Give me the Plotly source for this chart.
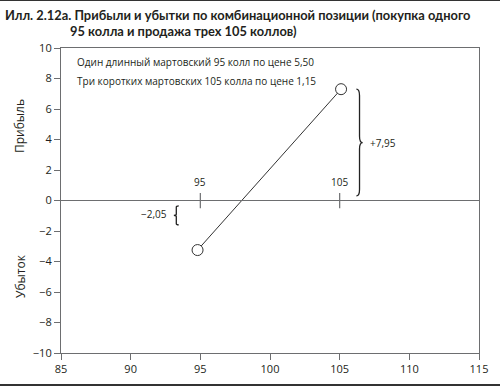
import plotly.graph_objects as go

# Data
strikes_x = [94.8, 105.1]
pnl_y = [-3.25, 7.3]
strike_marks = [95, 105]
strike_labels = ["95", "105"]
legend_lines = ["Один длинный мартовский 95 колл по цене 5,50",
                "Три коротких мартовских 105 колла по цене 1,15"]
brace_labels = ["−2,05", "+7,95"]
y_ticks = [-10, -8, -6, -4, -2, 0, 2, 4, 6, 8, 10]
x_ticks = [85, 90, 95, 100, 105, 110, 115]
title_lines = ["Илл. 2.12а. Прибыли и убытки по комбинационной позиции (покупка одного",
               "95 колла и продажа трех 105 коллов)"]
side_labels = ["Прибыль", "Убыток"]

FONT = "Open Sans"
TFONT = "Lato"
TXT = "#231f20"
AX = "#6d6e70"

W, H = 500, 386
ML, MR, MT, MB = 61, 21, 47, 34
PW, PH = W - ML - MR, H - MT - MB


def px2paper(px, py):
    return (px - ML) / PW, 1 - (py - MT) / PH


fig = go.Figure()
fig.add_trace(go.Scatter(
    x=strikes_x, y=pnl_y, mode="lines+markers",
    line=dict(color="#333333", width=1),
    marker=dict(size=11, color="white", line=dict(color="#333333", width=1)),
    showlegend=False, hoverinfo="skip"))

shapes = []
annotations = []

# zero line
shapes.append(dict(type="line", xref="x", yref="y", x0=85, x1=115, y0=0, y1=0,
                   line=dict(color=AX, width=1.2)))
# strike ticks on zero line
for s, lab in zip(strike_marks, strike_labels):
    shapes.append(dict(type="line", xref="x", yref="y", x0=s, x1=s, y0=-0.5, y1=0.5,
                       line=dict(color=AX, width=1.2)))
    annotations.append(dict(x=s, y=0.6, xref="x", yref="y", text=lab, showarrow=False,
                            font=dict(size=10, color=TXT, family=FONT), yanchor="bottom"))


def brace(x0, ytop, ybot, w):
    ym = (ytop + ybot) / 2
    xm = x0 + w / 2
    r = (ytop - ybot) * 0.06
    return (f"M {x0},{ytop} Q {xm},{ytop} {xm},{ytop - r} L {xm},{ym + r} "
            f"Q {xm},{ym} {x0 + w},{ym} Q {xm},{ym} {xm},{ym - r} "
            f"L {xm},{ybot + r} Q {xm},{ybot} {x0},{ybot}")


shapes.append(dict(type="path", xref="x", yref="y",
                   path=brace(106.2, 7.3, 0.3, 0.45),
                   line=dict(color="#222222", width=1.3)))
shapes.append(dict(type="path", xref="x", yref="y",
                   path=brace(93.45, -0.35, -1.6, -0.35),
                   line=dict(color="#222222", width=1.3)))
annotations.append(dict(x=107.0, y=3.8, xref="x", yref="y", text=brace_labels[1],
                        showarrow=False, xanchor="left",
                        font=dict(size=10, color=TXT, family=FONT)))
annotations.append(dict(x=92.75, y=-0.9, xref="x", yref="y", text=brace_labels[0],
                        showarrow=False, xanchor="right",
                        font=dict(size=10, color=TXT, family=FONT)))

# legend text
for i, t in enumerate(legend_lines):
    annotations.append(dict(x=86.0, y=9.1 - i * 1.25, xref="x", yref="y", text=t,
                            showarrow=False, xanchor="left",
                            font=dict(size=10, color=TXT, family=FONT)))

# side labels
for lab, py in zip(side_labels, [125, 275]):
    x, y = px2paper(20, py)
    annotations.append(dict(x=x, y=y, xref="paper", yref="paper", text=lab,
                            showarrow=False, textangle=-90, xanchor="center", yanchor="middle",
                            font=dict(size=12, color=TXT, family=FONT)))

# title
for t, (px, py) in zip(title_lines, [(3, 4), (68, 20)]):
    x, y = px2paper(px, py)
    annotations.append(dict(x=x, y=y, xref="paper", yref="paper", xanchor="left", yanchor="top",
                            align="left", showarrow=False, text=f"<b>{t}</b>",
                            font=dict(size=12.85, color=TXT, family=TFONT)))

# frame line bottom of image
x0, _ = px2paper(0, 0)
x1, _ = px2paper(W, 0)
_, yb = px2paper(0, 384.5)
shapes.append(dict(type="line", xref="paper", yref="paper", x0=x0, x1=x1, y0=yb, y1=yb,
                   line=dict(color="#333333", width=3)))

fig.update_layout(
    width=W, height=H,
    margin=dict(l=ML, r=MR, t=MT, b=MB, autoexpand=False),
    paper_bgcolor="white", plot_bgcolor="white",
    font=dict(family=FONT, size=11, color=TXT),
    xaxis=dict(range=[85, 115], tickvals=x_ticks, showline=True, mirror=True,
               linecolor=AX, linewidth=1.2, ticks="outside", ticklen=6, tickcolor=AX,
               showgrid=False, zeroline=False, tickfont=dict(size=11), automargin=False),
    yaxis=dict(range=[-10, 10], tickvals=y_ticks, showline=True, mirror=True,
               linecolor=AX, linewidth=1.2, ticks="outside", ticklen=6, tickcolor=AX,
               showgrid=False, zeroline=False, tickfont=dict(size=11), automargin=False),
    shapes=shapes,
    annotations=annotations,
)

fig.write_html("out.html", post_script="document.body.style.margin='0';document.body.style.overflow='hidden';document.body.style.borderTop='1px solid #333';")
